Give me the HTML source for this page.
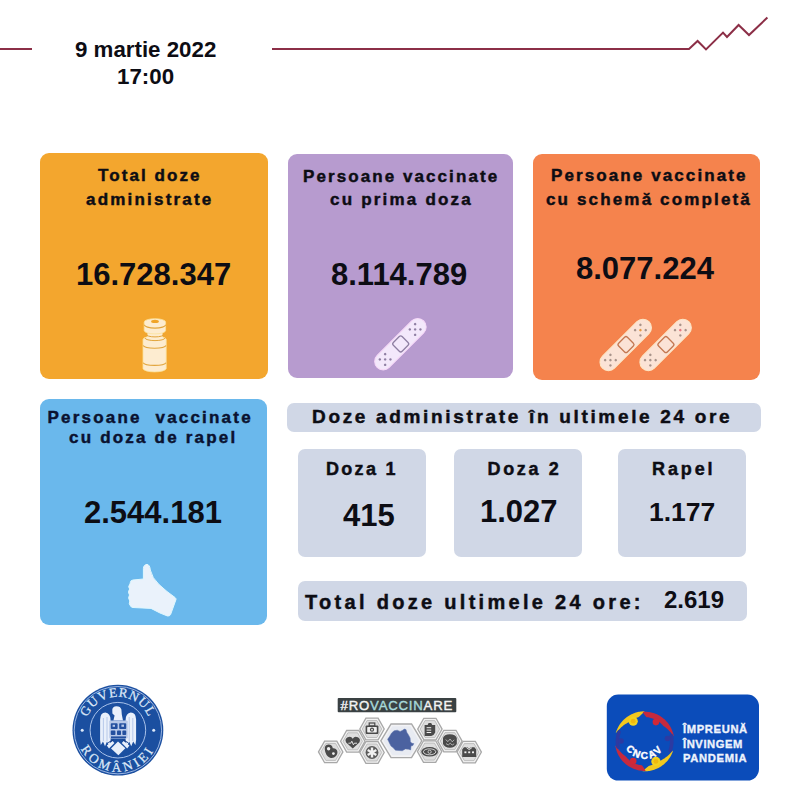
<!DOCTYPE html>
<html><head><meta charset="utf-8">
<style>
html,body{margin:0;padding:0;}
body{width:800px;height:800px;background:#fff;position:relative;overflow:hidden;font-family:"Liberation Sans",sans-serif;color:#0d0d14;}
.abs{position:absolute;}
.box{position:absolute;border-radius:9px;}
.t{position:absolute;white-space:nowrap;font-weight:bold;line-height:1;}
.lab{font-size:17px;letter-spacing:2.2px;-webkit-text-stroke:0.45px currentColor;}
.num{font-size:31px;}
</style></head><body>
<!-- header -->
<svg class="abs" style="left:0;top:0" width="800" height="80" viewBox="0 0 800 80">
<path d="M0 49 H32" stroke="#8c2f47" stroke-width="2" fill="none"/>
<path d="M272 49 H689 L697.6 41 L706 49.4 L723 32.6 L727 37 L738.6 25 L749 35 L767.4 17.6" stroke="#8c2f47" stroke-width="2" fill="none" stroke-linejoin="miter"/>
</svg>
<div id="d1" class="t" style="left:75px;top:39px;font-size:22.3px;">9 martie 2022</div>
<div id="d2" class="t" style="left:117px;top:66px;font-size:22.3px;">17:00</div>

<!-- boxes -->
<div class="box" style="left:40px;top:152.5px;width:227.5px;height:226px;background:#f3a62e;"></div>
<div class="box" style="left:287.5px;top:153.5px;width:225.5px;height:224px;background:#b79bcf;"></div>
<div class="box" style="left:532.5px;top:153.5px;width:227.5px;height:226px;background:#f5834d;"></div>
<div class="box" style="left:40px;top:399px;width:227px;height:225.5px;background:#6ab8ec;"></div>

<div class="box" style="left:287px;top:402.5px;width:474px;height:29px;background:#d0d7e6;border-radius:7px;"></div>
<div class="box" style="left:298px;top:448.5px;width:127.5px;height:108px;background:#d0d7e6;border-radius:7px;"></div>
<div class="box" style="left:454px;top:448.5px;width:128px;height:108px;background:#d0d7e6;border-radius:7px;"></div>
<div class="box" style="left:617.5px;top:448.5px;width:128.5px;height:108px;background:#d0d7e6;border-radius:7px;"></div>
<div class="box" style="left:298px;top:580.5px;width:449px;height:40px;background:#d0d7e6;border-radius:7px;"></div>

<!-- labels -->
<div id="a1" class="t lab" style="left:98px;top:167px;letter-spacing:2.07px;">Total doze</div>
<div id="a2" class="t lab" style="left:86px;top:191px;">administrate</div>
<div id="a3" class="t num" style="left:76px;top:259px;">16.728.347</div>

<div id="b1" class="t lab" style="left:303px;top:167.5px;letter-spacing:2.08px;">Persoane vaccinate</div>
<div id="b2" class="t lab" style="left:330px;top:191px;">cu prima doza</div>
<div id="b3" class="t num" style="left:331px;top:259px;">8.114.789</div>

<div id="c1" class="t lab" style="left:551px;top:167px;letter-spacing:2.1px;">Persoane vaccinate</div>
<div id="c2" class="t lab" style="left:546px;top:190.5px;letter-spacing:2.15px;">cu schemă completă</div>
<div id="c3" class="t num" style="left:576px;top:253px;">8.077.224</div>

<div id="e1" class="t lab" style="left:47.5px;top:408.5px;color:#0a1230;">Persoane&nbsp; vaccinate</div>
<div id="e2" class="t lab" style="left:69px;top:429px;color:#0a1230;">cu doza de rapel</div>
<div id="e3" class="t num" style="left:84px;top:497px;">2.544.181</div>

<div id="f1" class="t lab" style="left:312px;top:407px;font-size:19px;letter-spacing:2.67px;">Doze administrate în ultimele 24 ore</div>
<div id="g1" class="t lab" style="left:326px;top:460px;font-size:18px;letter-spacing:2.3px;">Doza 1</div>
<div id="g2" class="t lab" style="left:487.5px;top:460px;font-size:18px;letter-spacing:2.65px;">Doza 2</div>
<div id="g3" class="t lab" style="left:652px;top:460px;font-size:18px;letter-spacing:2.9px;">Rapel</div>
<div id="h1" class="t num" style="left:343px;top:500px;">415</div>
<div id="h2" class="t num" style="left:480px;top:496px;">1.027</div>
<div id="h3" class="t num" style="left:649px;top:499px;font-size:26.5px;">1.177</div>
<div id="i1" class="t lab" style="left:305px;top:591.5px;font-size:20px;letter-spacing:3.3px;">Total doze ultimele 24 ore:</div>
<div id="i2" class="t num" style="left:664px;top:588px;font-size:24px;">2.619</div>

<!-- icons -->
<svg class="abs" style="left:0;top:300px" width="800" height="340" viewBox="0 300 800 340">
<g>
<path d="M143 339.5 a11.6 3.4 0 0 1 23.2 0 v29 a11.6 3.4 0 0 1 -23.2 0 z" fill="#fdecd0" stroke="#fbe29a" stroke-width="0.8"/>
<rect x="147.5" y="331" width="15" height="7" fill="#fdecd0"/>
<path d="M144.2 322 a10.7 3.3 0 0 1 21.4 0 v8.6 a10.7 3.3 0 0 1 -21.4 0 z" fill="#fdecd0" stroke="#fbe29a" stroke-width="0.8"/>
<ellipse cx="155" cy="321.4" rx="3.9" ry="1.7" fill="#f0a428"/>
<path d="M144.4 324.8 a10.6 3.3 0 0 0 21.2 0" fill="none" stroke="#e2a53c" stroke-width="1.1"/>
<path d="M146 334.3 a9 2.6 0 0 0 18 0" fill="none" stroke="#e2a53c" stroke-width="1"/>
<path d="M145 338 a10 2.6 0 0 0 20 0" fill="none" stroke="#e2a53c" stroke-width="1"/>
<path d="M143.2 345.6 a11.5 3 0 0 0 22.8 0" fill="none" stroke="#e2a53c" stroke-width="1.1"/>
<path d="M143.2 362.8 a11.5 3 0 0 0 22.8 0" fill="none" stroke="#e2a53c" stroke-width="1.1"/>
</g>
<g transform="translate(400.7,343.9) rotate(-45)">
<rect x="-33.3" y="-8.5" width="65.8" height="17" rx="8.5" fill="#f3e8fb" stroke="#f6d8f8" stroke-width="1"/>
<rect x="-6.2" y="-6.2" width="12.4" height="12.4" rx="2" fill="none" stroke="#8f7fa3" stroke-width="1.3"/>
<circle cx="-22.00" cy="0.00" r="1.25" fill="#8f7fa3"/><circle cx="-18.25" cy="3.75" r="1.25" fill="#8f7fa3"/><circle cx="-18.25" cy="-3.75" r="1.25" fill="#8f7fa3"/><circle cx="-25.75" cy="3.75" r="1.25" fill="#8f7fa3"/><circle cx="-25.75" cy="-3.75" r="1.25" fill="#8f7fa3"/><circle cx="20.40" cy="0.00" r="1.25" fill="#8f7fa3"/><circle cx="24.15" cy="3.75" r="1.25" fill="#8f7fa3"/><circle cx="24.15" cy="-3.75" r="1.25" fill="#8f7fa3"/><circle cx="16.65" cy="3.75" r="1.25" fill="#8f7fa3"/><circle cx="16.65" cy="-3.75" r="1.25" fill="#8f7fa3"/></g>
<g transform="translate(626,344.6) rotate(-45)">
<rect x="-33.3" y="-8.5" width="65.8" height="17" rx="8.5" fill="#fbe3d6" stroke="#fde6c4" stroke-width="1"/>
<rect x="-6.2" y="-6.2" width="12.4" height="12.4" rx="2" fill="none" stroke="#c47850" stroke-width="1.3"/>
<circle cx="-22.00" cy="0.00" r="1.25" fill="#a8938a"/><circle cx="-18.25" cy="3.75" r="1.25" fill="#a8938a"/><circle cx="-18.25" cy="-3.75" r="1.25" fill="#a8938a"/><circle cx="-25.75" cy="3.75" r="1.25" fill="#a8938a"/><circle cx="-25.75" cy="-3.75" r="1.25" fill="#a8938a"/><circle cx="20.40" cy="0.00" r="1.25" fill="#e89a40"/><circle cx="24.15" cy="3.75" r="1.25" fill="#a8938a"/><circle cx="24.15" cy="-3.75" r="1.25" fill="#a8938a"/><circle cx="16.65" cy="3.75" r="1.25" fill="#a8938a"/><circle cx="16.65" cy="-3.75" r="1.25" fill="#a8938a"/></g>
<g transform="translate(665.9,344.6) rotate(-45)">
<rect x="-33.3" y="-8.5" width="65.8" height="17" rx="8.5" fill="#fbe3d6" stroke="#fde6c4" stroke-width="1"/>
<rect x="-6.2" y="-6.2" width="12.4" height="12.4" rx="2" fill="none" stroke="#c47850" stroke-width="1.3"/>
<circle cx="-22.00" cy="0.00" r="1.25" fill="#a8938a"/><circle cx="-18.25" cy="3.75" r="1.25" fill="#a8938a"/><circle cx="-18.25" cy="-3.75" r="1.25" fill="#a8938a"/><circle cx="-25.75" cy="3.75" r="1.25" fill="#a8938a"/><circle cx="-25.75" cy="-3.75" r="1.25" fill="#a8938a"/><circle cx="20.40" cy="0.00" r="1.25" fill="#e87880"/><circle cx="24.15" cy="3.75" r="1.25" fill="#a8938a"/><circle cx="24.15" cy="-3.75" r="1.25" fill="#a8938a"/><circle cx="16.65" cy="3.75" r="1.25" fill="#a8938a"/><circle cx="16.65" cy="-3.75" r="1.25" fill="#a8938a"/></g>
<path d="M147 564.4 C145 564.4 143.4 566 143.4 568.5 L143.4 579 L133 580 Q130.5 580.3 130.3 582.5 L130 584 Q127.6 586.5 129.6 589 Q127.4 592 129.5 595 Q127.6 598 129.8 601 Q128.4 604 130.6 606 Q131 607.4 133 607.5 L151 608.4 L160 613 L167.5 616 Q169.8 616.3 170.6 614.5 L176 599.5 Q176.2 598.5 175 597.5 L167 591.5 L159 584.5 Q152 578 150.3 570 Q149.8 564.6 147 564.4 Z" fill="#eaf2fb" stroke="#dff8ff" stroke-width="1"/>
</svg>

<!-- gov logo -->
<svg class="abs" style="left:60px;top:675px" width="120" height="115" viewBox="60 675 120 115">
<defs>
<path id="arcTop" d="M 84.5 730.2 A 33.4 33.4 0 0 1 151.3 730.2"/>
<path id="arcBot" d="M 76.5 730.2 A 41.4 41.4 0 0 0 159.3 730.2"/>
</defs>
<circle cx="117.9" cy="730.2" r="45.4" fill="#1b4fa0"/>
<circle cx="117.9" cy="730.2" r="43.7" fill="none" stroke="#a9c2ea" stroke-width="0.9"/>
<circle cx="117.9" cy="730.2" r="27.8" fill="none" stroke="#a9c2ea" stroke-width="1"/>
<text font-family="Liberation Serif, serif" font-size="13.2" fill="#dce8f8" stroke="#dce8f8" stroke-width="0.25" letter-spacing="0.75"><textPath href="#arcTop" startOffset="50%" text-anchor="middle">GUVERNUL</textPath></text>
<text font-family="Liberation Serif, serif" font-size="13.2" fill="#dce8f8" stroke="#dce8f8" stroke-width="0.25" letter-spacing="3.2"><textPath href="#arcBot" startOffset="50%" text-anchor="middle">ROMÂNIEI</textPath></text>
<circle cx="82.2" cy="730.2" r="1.5" fill="#dce8f8"/>
<circle cx="153.7" cy="730.2" r="1.5" fill="#dce8f8"/>
<g fill="#e9f0fb">
<path d="M100.1 719.5 Q100.3 712.5 105.4 712.5 Q110.4 713 110.6 720 L110.6 740 L109.4 746 L107 741.5 L105 746.2 L103 741.5 L100.8 745 L100.1 740 Z"/>
<path d="M136.1 719.5 Q135.9 712.5 130.8 712.5 Q125.8 713 125.6 720 L125.6 740 L126.8 746 L129.2 741.5 L131.2 746.2 L133.2 741.5 L135.4 745 L136.1 740 Z"/>
<path d="M112.3 709.6 Q112.6 706.4 116.4 706.2 Q120.6 706.2 121.4 709.6 L121.8 714.5 L123 720.6 L113.4 720.6 L114.6 715.4 L112.4 713.4 Z"/>
<path d="M118 741.4 L125.4 748.2 L118.4 755.2 L111 748.6 Z"/>
<path d="M106.8 745.4 L112.6 741 L114.4 743 L109 748.4 Z"/>
<path d="M129.4 745.4 L123.6 741 L121.8 743 L127.2 748.4 Z"/>
</g>
<g stroke="#a9bfe6" stroke-width="0.8" fill="none">
<path d="M103.4 718 V741 M107 717 V741 M132.8 718 V741 M129.2 717 V741"/>
</g>
<rect x="109.3" y="720.6" width="18.4" height="17.8" rx="1" fill="#b7c8e8"/>
<g fill="#24509f">
<rect x="110.8" y="723.2" width="6.8" height="5.8" rx="0.8"/><rect x="119.2" y="723.2" width="7" height="5.8" rx="0.8"/>
<rect x="110.8" y="730.6" width="4.6" height="4.4" rx="0.8"/><rect x="117" y="730.6" width="4" height="4.4" rx="0.8"/><rect x="122.4" y="730.6" width="3.8" height="4.4" rx="0.8"/>
<rect x="111" y="736.4" width="15" height="1.6"/>
</g>
<g fill="#b7c8e8"><rect x="112.6" y="724.8" width="2.4" height="2"/><rect x="121.4" y="724.6" width="2.6" height="2.2"/></g>
<path d="M108.2 742.6 L113.8 739.6 M128 742.6 L122.4 739.6" stroke="#1b3f86" stroke-width="1" fill="none"/>
</svg>

<!-- rovaccinare -->
<svg class="abs" style="left:310px;top:690px" width="180" height="85" viewBox="310 690 180 85">
<rect x="337.7" y="698" width="118.6" height="14.2" rx="1" fill="#3a4143"/>
<text x="340.6" y="709.8" font-family="Liberation Sans, sans-serif" font-size="13.2" letter-spacing="0.78" fill="#f4f4f4" stroke="#f4f4f4" stroke-width="0.4">#RO<tspan fill="#a8dada" stroke="#a8dada">VACCIN</tspan>ARE</text>
<polygon points="318.50,751.90 324.60,741.10 336.80,741.10 342.90,751.90 336.80,762.70 324.60,762.70" fill="#f2f2f2" stroke="#a8a8a8" stroke-width="1.3"/><polygon points="321.00,751.90 325.85,743.40 335.55,743.40 340.40,751.90 335.55,760.40 325.85,760.40" fill="#dedede" stroke="#b4b4b4" stroke-width="0.8"/><polygon points="340.55,741.30 346.65,730.50 358.85,730.50 364.95,741.30 358.85,752.10 346.65,752.10" fill="#f2f2f2" stroke="#a8a8a8" stroke-width="1.3"/><polygon points="343.05,741.30 347.90,732.80 357.60,732.80 362.45,741.30 357.60,749.80 347.90,749.80" fill="#dedede" stroke="#b4b4b4" stroke-width="0.8"/><polygon points="359.80,729.00 365.90,718.20 378.10,718.20 384.20,729.00 378.10,739.80 365.90,739.80" fill="#f2f2f2" stroke="#a8a8a8" stroke-width="1.3"/><polygon points="362.30,729.00 367.15,720.50 376.85,720.50 381.70,729.00 376.85,737.50 367.15,737.50" fill="#dedede" stroke="#b4b4b4" stroke-width="0.8"/><polygon points="359.80,752.50 365.90,741.70 378.10,741.70 384.20,752.50 378.10,763.30 365.90,763.30" fill="#f2f2f2" stroke="#a8a8a8" stroke-width="1.3"/><polygon points="362.30,752.50 367.15,744.00 376.85,744.00 381.70,752.50 376.85,761.00 367.15,761.00" fill="#dedede" stroke="#b4b4b4" stroke-width="0.8"/><polygon points="417.70,729.10 423.80,718.30 436.00,718.30 442.10,729.10 436.00,739.90 423.80,739.90" fill="#f2f2f2" stroke="#a8a8a8" stroke-width="1.3"/><polygon points="420.20,729.10 425.05,720.60 434.75,720.60 439.60,729.10 434.75,737.60 425.05,737.60" fill="#dedede" stroke="#b4b4b4" stroke-width="0.8"/><polygon points="417.40,751.60 423.50,740.80 435.70,740.80 441.80,751.60 435.70,762.40 423.50,762.40" fill="#f2f2f2" stroke="#a8a8a8" stroke-width="1.3"/><polygon points="419.90,751.60 424.75,743.10 434.45,743.10 439.30,751.60 434.45,760.10 424.75,760.10" fill="#dedede" stroke="#b4b4b4" stroke-width="0.8"/><polygon points="437.70,741.10 443.80,730.30 456.00,730.30 462.10,741.10 456.00,751.90 443.80,751.90" fill="#f2f2f2" stroke="#a8a8a8" stroke-width="1.3"/><polygon points="440.20,741.10 445.05,732.60 454.75,732.60 459.60,741.10 454.75,749.60 445.05,749.60" fill="#dedede" stroke="#b4b4b4" stroke-width="0.8"/><polygon points="457.00,752.10 463.10,741.30 475.30,741.30 481.40,752.10 475.30,762.90 463.10,762.90" fill="#f2f2f2" stroke="#a8a8a8" stroke-width="1.3"/><polygon points="459.50,752.10 464.35,743.60 474.05,743.60 478.90,752.10 474.05,760.60 464.35,760.60" fill="#dedede" stroke="#b4b4b4" stroke-width="0.8"/>
<polygon points="380.80,740.80 391.05,724.00 411.55,724.00 421.80,740.80 411.55,757.60 391.05,757.60" fill="#f3f3f5" stroke="#a9a9a9" stroke-width="1.4"/>
<polygon points="383.50,740.80 392.40,726.30 410.20,726.30 419.10,740.80 410.20,755.30 392.40,755.30" fill="#e8ebf2"/>
<path d="M387.6 739.25 L389.4 736.75 L391.6 733 L394.1 730.8 L397.25 730.2 L400.1 731.4 L402.25 730.5 L404.4 729.1 L406 729.6 L406.9 732.4 L408.5 734.9 L410.1 738 L410.4 741.75 L411.9 743.3 L413.8 743.6 L412.9 745.5 L411 746.1 L410.7 749.9 L408.5 749.25 L405.4 748.9 L402.25 750.8 L399.1 750.5 L395.4 750.2 L393.5 748 L391 746.1 L389.4 743 L388.5 741.1 Z" fill="#4b62a0" stroke="#5d73ab" stroke-width="0.5" stroke-linejoin="round"/>
<g fill="#4a4a4a" stroke="none">
<!-- 1 stethoscope -->
<path d="M324.8 749.5 q-0.6 -4.5 3.6 -5 q4 0 4.4 3.8 q2.6 -0.4 4 1.8 q1.6 3 -0.8 6 q-2.6 2.6 -6 1.6 q-4.6 -2 -5.2 -8.2 z"/>
<!-- 2 heart -->
<path d="M352.75 748.6 l-6.6 -6.2 a3.7 3.7 0 0 1 6.6 -3.6 a3.7 3.7 0 0 1 6.6 3.6 z"/>
<!-- 3 kit -->
<rect x="365.6" y="725.4" width="12.8" height="8.6" rx="1"/><rect x="369.2" y="723" width="5.6" height="3" fill="none" stroke="#4a4a4a" stroke-width="1.2"/>
<!-- 4 star -->
<circle cx="372" cy="752.5" r="6.4" fill="#5a5a5a"/>
<!-- 5 clipboard -->
<path d="M424.6 725 h3 l1 -2 h2.6 l1 2 h3 v7.5 q-1 2.6 -4 3.4 h-6.6 z"/>
<!-- 6 mask -->
<ellipse cx="429.6" cy="751.8" rx="8.4" ry="4.8"/>
<!-- 7 -->
<path d="M443 738 q1 -3.6 6.8 -3.8 q6 0.2 7 3.8 v6 q-2 3.6 -7 3.8 q-5 -0.2 -6.8 -3.8 z"/>
<!-- 8 hospital -->
<path d="M462.2 757 v-7.4 l1.8 -2.4 h3.4 l1.8 1.6 l1.8 -1.6 h3.4 l1.8 2.4 v7.4 z"/>
</g>
<g fill="#f0f0f0">
<circle cx="328.6" cy="748.8" r="1.7"/><circle cx="333.4" cy="753.6" r="1.4"/>
<path d="M348.4 743.2 h2.4 l1 -2 l1.6 3.6 l1 -1.6 h2.6" fill="none" stroke="#f0f0f0" stroke-width="0.9"/>
<rect x="367.2" y="727" width="9.6" height="5.4" rx="0.6"/>
<g transform="translate(372,752.5)"><rect x="-1.2" y="-5" width="2.4" height="10"/><rect x="-1.2" y="-5" width="2.4" height="10" transform="rotate(60)"/><rect x="-1.2" y="-5" width="2.4" height="10" transform="rotate(-60)"/></g>
<rect x="426.6" y="727.2" width="4.6" height="1"/><rect x="426.6" y="729.6" width="4.6" height="1"/><rect x="426.6" y="732" width="4.6" height="1"/>
<ellipse cx="429.6" cy="751.8" rx="6.2" ry="3" fill="none" stroke="#f0f0f0" stroke-width="0.8"/><circle cx="429.6" cy="751.8" r="1.6" fill="none" stroke="#f0f0f0" stroke-width="0.7"/>
<path d="M445.6 739.6 l2.4 2 l2 -2.6 l2.2 2.8 l2 -2 M446 743.6 l2.2 1.4 l2 -1.8 l2 1.8 l2 -1.2" fill="none" stroke="#d8d8d8" stroke-width="0.7"/>
<rect x="464.4" y="751.4" width="2" height="1.8"/><rect x="468.2" y="751.4" width="2" height="1.8"/><rect x="472" y="751.4" width="2" height="1.8"/><path d="M466.4 747.6 l2.8 2 l2.8 -2" fill="none" stroke="#f0f0f0" stroke-width="0.9"/>
</g>
<circle cx="372" cy="729.7" r="2.1" fill="#4a4a4a"/><circle cx="372" cy="729.7" r="0.9" fill="#f0f0f0"/>
</svg>

<!-- cncav -->
<svg class="abs" style="left:600px;top:685px" width="170" height="105" viewBox="600 685 170 105">
<defs><path id="cnarc" d="M 622.2 736.5 A 22.4 22.4 0 0 0 667.0 736.5"/></defs>
<rect x="606.8" y="694.6" width="152.2" height="86" rx="11.5" fill="#0b4cba"/>
<path d="M615.76 733.03 L616.04 732.10 L616.36 731.19 L616.70 730.28 L617.07 729.39 L617.47 728.50 L617.89 727.63 L618.35 726.78 L618.83 725.94 L619.34 725.11 L619.88 724.31 L620.44 723.52 L621.02 722.75 L621.64 722.00 L622.27 721.27 L622.93 720.55 L623.61 719.87 L624.31 719.20 L625.04 718.56 L625.78 717.94 L626.55 717.34 L627.33 716.77 L628.13 716.23 L628.95 715.71 L629.78 715.22 L630.63 714.75 L631.50 714.31 L632.37 713.90 L633.26 713.52 L634.17 713.17 L635.08 712.85 L636.00 712.56 L636.94 712.30 L637.88 712.06 L638.82 711.86 L639.78 711.69 L640.74 711.55 L641.70 711.44 L642.66 711.36 L643.63 711.32 L644.60 711.30 L644.60 711.30 L643.67 712.45 L642.79 713.28 L641.95 714.03 L641.15 714.75 L640.39 715.45 L639.67 716.15 L638.98 716.84 L638.26 717.32 L637.49 717.54 L636.73 717.78 L635.98 718.05 L635.23 718.34 L634.49 718.65 L633.77 718.99 L633.05 719.35 L632.35 719.74 L631.66 720.14 L630.98 720.57 L630.32 721.02 L629.67 721.49 L629.04 721.99 L628.38 722.44 L627.63 722.81 L626.89 723.21 L626.15 723.64 L625.43 724.10 L624.71 724.58 L623.99 725.08 L623.29 725.62 L622.59 726.17 L621.90 726.76 L621.22 727.37 L620.55 728.00 L619.89 728.66 L619.24 729.34 L618.59 730.04 L617.94 730.77 L617.28 731.52 L616.60 732.28 L615.76 733.03 Z" fill="#f2c81e"/>
<path d="M642.54 711.77 L643.62 711.72 L644.70 711.70 L645.79 711.72 L646.87 711.79 L647.95 711.89 L649.03 712.03 L650.10 712.21 L651.16 712.44 L652.21 712.70 L653.25 712.99 L654.29 713.33 L655.30 713.70 L656.31 714.11 L657.30 714.56 L658.27 715.04 L659.22 715.56 L660.15 716.12 L661.07 716.70 L661.96 717.32 L662.82 717.97 L663.67 718.66 L664.48 719.37 L665.27 720.12 L666.04 720.89 L666.77 721.69 L667.47 722.51 L668.15 723.36 L668.79 724.24 L669.40 725.14 L669.97 726.05 L670.51 726.99 L671.02 727.95 L671.49 728.93 L671.93 729.92 L672.33 730.93 L672.69 731.96 L673.01 732.99 L673.30 734.04 L673.54 735.10 L673.75 736.16 L673.75 736.16 L672.82 735.25 L672.10 734.34 L671.40 733.46 L670.71 732.61 L670.02 731.79 L669.33 731.01 L668.62 730.25 L667.90 729.53 L667.17 728.84 L666.43 728.18 L665.68 727.56 L664.92 726.97 L664.14 726.41 L663.36 725.89 L662.72 725.26 L662.12 724.61 L661.50 723.98 L660.86 723.37 L660.19 722.79 L659.50 722.23 L658.79 721.70 L658.06 721.19 L657.32 720.71 L656.55 720.26 L655.77 719.83 L654.98 719.44 L654.17 719.07 L653.35 718.74 L652.52 718.43 L651.68 718.16 L650.82 717.91 L649.96 717.70 L649.09 717.52 L648.22 717.37 L647.34 717.26 L646.46 717.17 L645.61 716.23 L644.69 715.03 L643.68 713.70 L642.54 711.77 Z" fill="#c62a3e"/>
<path d="M671.21 735.64 A27.2 27.2 0 0 1 670.16 750.60" fill="none" stroke="#2c3aa2" stroke-width="3.6" stroke-linecap="round"/>
<path d="M673.13 750.57 L672.81 751.51 L672.45 752.44 L672.07 753.36 L671.65 754.26 L671.21 755.15 L670.74 756.03 L670.23 756.89 L669.70 757.73 L669.14 758.55 L668.56 759.35 L667.95 760.14 L667.31 760.90 L666.65 761.64 L665.96 762.36 L665.25 763.06 L664.52 763.73 L663.76 764.38 L662.99 765.00 L662.19 765.60 L661.38 766.17 L660.54 766.71 L659.69 767.23 L658.82 767.71 L657.94 768.17 L657.04 768.60 L656.13 769.00 L655.20 769.36 L654.27 769.70 L653.32 770.00 L652.36 770.28 L651.40 770.52 L650.43 770.73 L649.45 770.91 L648.46 771.05 L647.48 771.16 L646.48 771.24 L645.49 771.29 L644.50 771.30 L643.50 771.28 L642.51 771.23 L642.51 771.23 L643.54 770.12 L644.50 769.34 L645.41 768.64 L646.28 767.96 L647.10 767.29 L647.89 766.63 L648.64 765.97 L649.42 765.63 L650.22 765.45 L651.02 765.25 L651.81 765.03 L652.59 764.78 L653.37 764.50 L654.13 764.20 L654.88 763.87 L655.63 763.51 L656.36 763.14 L657.07 762.73 L657.78 762.31 L658.47 761.86 L659.14 761.39 L659.80 760.90 L660.57 760.53 L661.34 760.16 L662.11 759.76 L662.88 759.33 L663.64 758.87 L664.39 758.38 L665.14 757.87 L665.87 757.33 L666.60 756.76 L667.32 756.17 L668.04 755.55 L668.74 754.90 L669.44 754.23 L670.13 753.53 L670.82 752.81 L671.52 752.07 L672.25 751.31 L673.13 750.57 Z" fill="#f2c81e"/>
<path d="M645.63 770.88 L644.55 770.90 L643.46 770.88 L642.38 770.82 L641.30 770.72 L640.22 770.57 L639.16 770.39 L638.09 770.18 L637.04 769.92 L636.00 769.62 L634.96 769.29 L633.94 768.92 L632.94 768.51 L631.95 768.06 L630.98 767.58 L630.02 767.06 L629.09 766.51 L628.18 765.93 L627.29 765.31 L626.42 764.66 L625.57 763.97 L624.76 763.26 L623.96 762.52 L623.20 761.75 L622.47 760.95 L621.76 760.13 L621.09 759.28 L620.44 758.40 L619.83 757.51 L619.25 756.59 L618.71 755.65 L618.20 754.69 L617.73 753.72 L617.29 752.72 L616.89 751.71 L616.53 750.69 L616.20 749.66 L615.92 748.61 L615.67 747.56 L615.46 746.49 L615.29 745.42 L615.29 745.42 L616.18 746.36 L616.88 747.29 L617.54 748.20 L618.20 749.07 L618.86 749.91 L619.53 750.72 L620.21 751.50 L620.90 752.25 L621.61 752.96 L622.33 753.65 L623.06 754.30 L623.80 754.91 L624.55 755.50 L625.31 756.05 L625.93 756.69 L626.50 757.37 L627.10 758.02 L627.73 758.65 L628.38 759.26 L629.04 759.84 L629.73 760.40 L630.44 760.93 L631.17 761.43 L631.92 761.91 L632.68 762.36 L633.46 762.79 L634.26 763.18 L635.07 763.54 L635.89 763.88 L636.72 764.18 L637.57 764.45 L638.42 764.70 L639.28 764.91 L640.15 765.09 L641.02 765.23 L641.90 765.35 L642.72 766.32 L643.59 767.55 L644.55 768.92 L645.63 770.88 Z" fill="#c62a3e"/>
<path d="M617.99 746.96 A27.2 27.2 0 0 1 619.04 732.00" fill="none" stroke="#2c3aa2" stroke-width="3.6" stroke-linecap="round"/>
<circle cx="633.2" cy="721.2" r="4.6" fill="#f2d21e"/><circle cx="633.2" cy="721.2" r="2.4" fill="#f0b80e"/>
<circle cx="655.9" cy="722.1" r="3.3" fill="#d02838"/>
<circle cx="667.5" cy="738.5" r="2.8" fill="#2c3aa2"/>
<circle cx="621" cy="741" r="2.8" fill="#2c3aa2"/>
<circle cx="633.2" cy="761" r="3.3" fill="#d02838"/>
<circle cx="655.9" cy="761.4" r="4.6" fill="#f2d21e"/><circle cx="655.9" cy="761.4" r="2.4" fill="#f0b80e"/>
<text font-family="Liberation Sans, sans-serif" font-weight="bold" font-size="10" fill="#fff" stroke="#fff" stroke-width="0.4" letter-spacing="1.9"><textPath href="#cnarc" startOffset="50%" text-anchor="middle">CNCAV</textPath></text>
<g font-family="Liberation Sans, sans-serif" font-weight="bold" font-size="11.2" fill="#eef3fc" stroke="#eef3fc" stroke-width="0.35">
<text x="683" y="733.1" textLength="64.2" lengthAdjust="spacing">ÎMPREUNĂ</text>
<text x="683" y="747.5" textLength="59.4" lengthAdjust="spacing">ÎNVINGEM</text>
<text x="683" y="761.6" textLength="63.6" lengthAdjust="spacing">PANDEMIA</text>
</g>
</svg>
</body></html>
